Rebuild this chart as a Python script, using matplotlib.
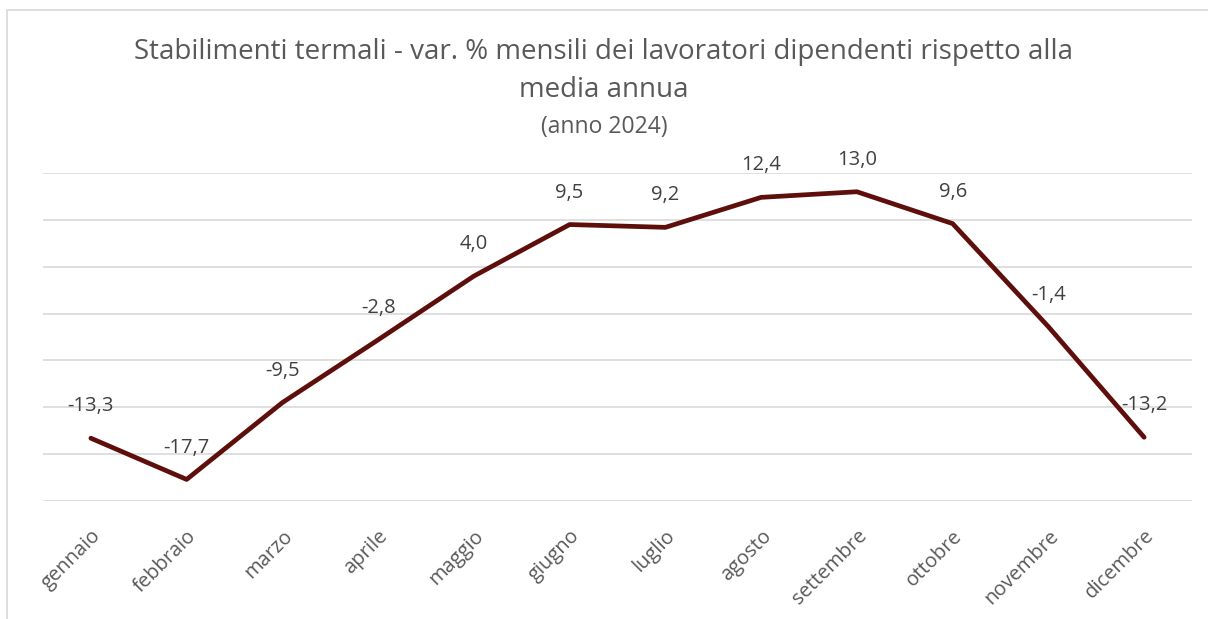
import matplotlib
matplotlib.use("Agg")
import matplotlib.pyplot as plt
from matplotlib.patches import Rectangle

months = ["gennaio", "febbraio", "marzo", "aprile", "maggio", "giugno",
          "luglio", "agosto", "settembre", "ottobre", "novembre", "dicembre"]
values = [-13.3, -17.7, -9.5, -2.8, 4.0, 9.5, 9.2, 12.4, 13.0, 9.6, -1.4, -13.2]
yticks = [-20, -15, -10, -5, 0, 5, 10, 15]

FONT = ["Open Sans", "DejaVu Sans"]
plt.rcParams['font.family'] = FONT

W, H = 1208, 619
fig = plt.figure(figsize=(W / 100, H / 100), dpi=100)
ax = fig.add_axes([43 / W, 1 - 501 / H, (1192 - 43) / W, (501 - 173) / H])

x = list(range(len(months)))
ax.plot(x, values, color="#5e0f0b", lw=3.4, solid_capstyle="round", solid_joinstyle="round", zorder=3)

for xi, v in zip(x, values):
    lab = f"{v:.1f}".replace(".", ",")
    ax.annotate(lab, (xi, v), xytext=(0, 23), textcoords="offset points",
                ha="center", va="center", fontsize=14.5, color="#404040", zorder=4)

ax.set_xlim(-0.5, len(months) - 0.5)
ax.set_ylim(-20, 15)
ax.set_yticks(yticks)
ax.yaxis.grid(True, color="#d9d9d9", lw=1.2)
ax.set_axisbelow(True)
ax.tick_params(axis="y", left=False, labelleft=False)
ax.set_xticks(x)
ax.set_xticklabels(months, rotation=45, ha="right", rotation_mode="anchor",
                   fontsize=14.5, color="#595959")
ax.tick_params(axis="x", length=0, pad=18)
for s in ax.spines.values():
    s.set_visible(False)

fig.text(0.5, 1 - 52 / H, "Stabilimenti termali - var. % mensili dei lavoratori dipendenti rispetto alla",
         ha="center", va="center", fontsize=20, color="#595959")
fig.text(0.5, 1 - 90 / H, "media annua", ha="center", va="center", fontsize=20, color="#595959")
fig.text(0.5, 1 - 127 / H, "(anno 2024)", ha="center", va="center", fontsize=16.5, color="#595959")

fig.patches.append(Rectangle((7 / W, -0.1), 1.2, 1 - 10 / H + 0.1, transform=fig.transFigure,
                             fill=False, edgecolor="#d9d9d9", lw=1.2))

fig.savefig("out.png", dpi=100, facecolor="white")
